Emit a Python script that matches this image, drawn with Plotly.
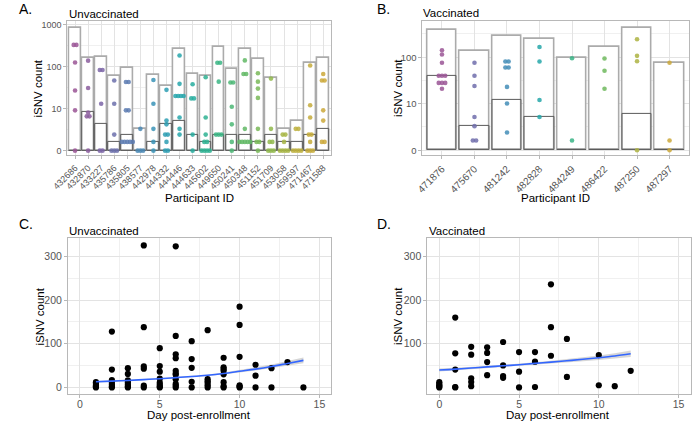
import numpy as np
import plotly.graph_objects as go

# ---------------- data ----------------
unvax_ids = ["432686", "432870", "433227", "435786", "435805", "438577", "442978",
             "444332", "444446", "444633", "445602", "449650", "450241", "450348",
             "451152", "451709", "453058", "459597", "471467", "471588"]
unvax_total = [850, 160, 172, 60, 96, 3, 64, 34, 271, 68, 61, 291, 90, 271, 157, 55, 3, 5, 124, 166]
unvax_median = [0, 8.2, 4, 1, 2, 0, 1, 4, 5, 2, 1, 2, 2, 2, 1, 2, 1, 1, 2, 3]
unvax_isnv = [
    [330, 330, 126, 27, 9, 0],
    [139, 31, 8, 6.4, 6.4, 0],
    [83, 83, 13, 0, 0],
    [47, 13, 2, 0, 0, 0],
    [43, 43, 9, 9, 1, 1, 1, 1, 1],
    [3, 0, 0, 0],
    [48, 13, 3, 1, 0],
    [28, 5, 4, 2, 2, 1, 0, 0],
    [185, 39, 20, 20, 20, 20, 6, 3, 2],
    [38, 17.5, 17.5, 2, 0],
    [56, 6, 2, 1, 1, 0, 0, 0, 0],
    [124, 124, 44, 2, 2, 2],
    [42, 42, 11, 4, 1, 0],
    [141, 67, 67, 3, 1, 1, 1, 1, 1],
    [70, 44, 30, 18, 3, 1, 1, 0],
    [52, 3, 1, 1, 0, 0, 0],
    [2, 2, 1, 0, 0, 0, 0],
    [3, 3, 0, 0, 0, 0],
    [107, 12, 6, 2, 2, 1, 0, 0, 0],
    [67, 47, 47, 9, 5, 1, 1],
]

vax_ids = ["471876", "475670", "481242", "482828", "484249", "486422", "487250", "487297"]
vax_total = [377, 139, 290, 246, 95, 169, 430, 77]
vax_median = [38.7, 3, 12.1, 5, 0, 0, 5.9, 0]
vax_isnv = [
    [141, 114, 76, 40, 40, 40, 28, 28, 28, 21],
    [76, 40, 24, 5, 3, 1, 1],
    [81, 81, 60, 60, 23, 10, 2],
    [166, 81, 12, 5],
    [95, 1],
    [94, 51, 21],
    [243, 107, 82, 0],
    [76, 1, 0],
]

unvax_day = ([1] * 5 + [2] * 7 + [3] * 7 + [4] * 6 + [5] * 8 + [6] * 11 + [7] * 5 +
             [8] * 6 + [9] * 8 + [10] * 6 + [11] * 3 + [12] * 2 + [13] + [14])
unvax_day_isnv = ([12, 8, 4, 2, 0] +
                  [128, 41, 17, 11, 6, 2, 0] +
                  [44, 31, 16, 11, 6, 2, 0] +
                  [325, 138, 48, 43, 4, 0] +
                  [90, 49, 36, 20, 11, 6, 2, 0] +
                  [323, 118, 76, 67, 38, 32, 29, 19, 8, 4, 0] +
                  [106, 65, 45, 13, 0] +
                  [131, 19, 14, 10, 5, 0] +
                  [68, 46, 42, 38, 30, 12, 3, 0] +
                  [185, 143, 70, 5, 2, 0] +
                  [52, 27, 0] +
                  [44, 0] +
                  [58] +
                  [0])
unvax_fit_day = [1, 2, 3, 4, 5, 6, 7, 8, 9, 10, 11, 12, 13, 14]
unvax_fit = [13, 14.5, 16, 18, 20, 22.5, 25, 28, 32, 37, 42, 48, 55, 62]
unvax_fit_lo = [11, 12.8, 14.6, 16.7, 18.8, 21.2, 23.5, 26.2, 29.8, 34.2, 38.6, 43.7, 49.6, 55.5]
unvax_fit_hi = [15, 16.2, 17.4, 19.3, 21.2, 23.8, 26.5, 29.8, 34.2, 39.8, 45.4, 52.3, 60.4, 68.5]

vax_day = ([0] * 5 + [1] * 5 + [2] * 5 + [3] * 4 + [4] * 4 + [5] * 3 + [6] * 3 +
           [7] * 3 + [8] * 2 + [10] * 2 + [11] + [12])
vax_day_isnv = ([12, 8, 5, 2, 0] +
                [160, 78, 41, 1, 0] +
                [93, 75, 21, 12.5, 3] +
                [92, 79, 58, 28] +
                [104, 50.5, 26, 22] +
                [81, 36, 0] +
                [81, 59, 1] +
                [236, 138, 72.6] +
                [111, 24] +
                [74, 5] +
                [3] +
                [38])
vax_fit_day = [0, 1, 2, 3, 4, 5, 6, 7, 8, 9, 10, 11, 12]
vax_fit = [40, 42, 44.5, 47, 49.5, 52, 55, 58, 61, 64.5, 68, 72, 77]
vax_fit_lo = [36.5, 39, 41.8, 44.7, 47.3, 49.8, 52.5, 55, 57.5, 60.2, 62.8, 65.8, 69.5]
vax_fit_hi = [43.5, 45, 47.2, 49.3, 51.7, 54.2, 57.5, 61, 64.5, 68.8, 73.2, 78.2, 84.5]

# ---------------- helpers ----------------
FONT = "Liberation Sans"
W, H = 692, 422


def ptrans(v):
    return np.arcsinh(np.asarray(v, dtype=float) / 2.0) / np.log(10)


def spread(vals, step):
    offs = []
    counts = {}
    for v in vals:
        counts[v] = counts.get(v, 0) + 1
    seen = {}
    for v in vals:
        n = counts[v]
        k = seen.get(v, 0)
        seen[v] = k + 1
        offs.append((k - (n - 1) / 2.0) * step)
    return offs


def hex2rgb(h):
    h = h.lstrip("#")
    return [int(h[i:i + 2], 16) for i in (0, 2, 4)]


anchors = ["#9A5595", "#7D64A6", "#5F79B1", "#3E90B8", "#25A3B0",
           "#28B099", "#3FB67E", "#68B960", "#96B84A", "#BFB03C", "#CBA83A"]


def palette(n):
    a = np.array([hex2rgb(c) for c in anchors], dtype=float)
    pos = np.linspace(0, 1, len(a))
    out = []
    for t in np.linspace(0, 1, n):
        rgb = [np.interp(t, pos, a[:, j]) for j in range(3)]
        out.append("rgb(%d,%d,%d)" % tuple(int(round(c)) for c in rgb))
    return out


def px_x(x):
    return x / W


def px_y(y):
    return 1 - y / H


fig = go.Figure()

# ---------------- Panels A and B ----------------
def bar_panel(ids, total, med, pts, xa, ya, step):
    idx = list(range(len(ids)))
    fig.add_trace(go.Bar(x=idx, y=ptrans(total), width=0.9, xaxis=xa, yaxis=ya,
                         marker=dict(color="white", line=dict(color="#ABABAB", width=1.6)),
                         showlegend=False, hoverinfo="skip"))
    fig.add_trace(go.Bar(x=idx, y=ptrans(med), width=0.9, xaxis=xa, yaxis=ya,
                         marker=dict(color="rgba(0,0,0,0)", line=dict(color="#5A5A5A", width=1)),
                         showlegend=False, hoverinfo="skip"))
    cols = palette(len(ids))
    xs, ys, cs = [], [], []
    for i, vals in enumerate(pts):
        offs = spread(vals, step)
        for v, o in zip(vals, offs):
            xs.append(i + o)
            ys.append(float(ptrans(v)))
            cs.append(cols[i])
    fig.add_trace(go.Scatter(x=xs, y=ys, mode="markers", xaxis=xa, yaxis=ya,
                             marker=dict(color=cs, size=4.6, opacity=0.85, line=dict(width=0)),
                             showlegend=False, hoverinfo="skip"))


bar_panel(unvax_ids, unvax_total, unvax_median, unvax_isnv, "x", "y", 0.21)
bar_panel(vax_ids, vax_total, vax_median, vax_isnv, "x2", "y2", 0.1)

# ---------------- Panels C and D ----------------
def scatter_panel(days, vals, fd, fv, flo, fhi, xa, ya):
    fig.add_trace(go.Scatter(x=list(fd) + list(fd)[::-1], y=list(fhi) + list(flo)[::-1],
                             fill="toself", fillcolor="rgba(153,153,153,0.4)",
                             line=dict(width=0), mode="lines", xaxis=xa, yaxis=ya,
                             showlegend=False, hoverinfo="skip"))
    fig.add_trace(go.Scatter(x=days, y=vals, mode="markers", xaxis=xa, yaxis=ya,
                             marker=dict(color="black", size=6.2, line=dict(width=0)),
                             showlegend=False, hoverinfo="skip"))
    fig.add_trace(go.Scatter(x=fd, y=fv, mode="lines", line=dict(color="#3366FF", width=1.6, shape="spline"),
                             xaxis=xa, yaxis=ya, showlegend=False, hoverinfo="skip"))


scatter_panel(unvax_day, unvax_day_isnv, unvax_fit_day, unvax_fit, unvax_fit_lo, unvax_fit_hi, "x3", "y3")
scatter_panel(vax_day, vax_day_isnv, vax_fit_day, vax_fit, vax_fit_lo, vax_fit_hi, "x4", "y4")

# ---------------- axes ----------------
GRID = "#E3E3E3"
MINOR = "#F0F0F0"
BORDER = "#B8B8B8"
TICKC = "#555555"

common = dict(showline=True, mirror=True, linecolor=BORDER, linewidth=1,
              ticks="outside", ticklen=3, tickcolor=BORDER, tickwidth=1,
              zeroline=False, showgrid=True, gridcolor=GRID, gridwidth=0.8,
              tickfont=dict(family=FONT, size=10.5, color=TICKC))

ybreaks = [0, 10, 100, 1000]
ymaj = [float(v) for v in ptrans(ybreaks)]
ymin = [(ymaj[i] + ymaj[i + 1]) / 2 for i in range(3)]

layout_axes = dict(
    xaxis=dict(common, domain=[px_x(52.5), px_x(323)], range=[-0.6, 19.6],
               tickvals=list(range(len(unvax_ids))), ticktext=unvax_ids, tickangle=-45,
               tickfont=dict(family=FONT, size=9, color=TICKC), anchor="y"),
    yaxis=dict(common, domain=[px_y(155), px_y(20)], range=[-0.11, 3.09],
               tickvals=ymaj, ticktext=[str(v) for v in ybreaks],
               tickfont=dict(family=FONT, size=9, color=TICKC), anchor="x",
               minor=dict(tickvals=ymin, showgrid=True, gridcolor=MINOR, gridwidth=0.5, ticks="")),
    xaxis2=dict(common, domain=[px_x(416.7), px_x(690)], range=[-0.6, 7.6],
                tickvals=list(range(len(vax_ids))), ticktext=vax_ids, tickangle=-45,
                tickfont=dict(family=FONT, size=10, color=TICKC), anchor="y2"),
    yaxis2=dict(common, domain=[px_y(155), px_y(20)], range=[-0.107, 2.78],
                tickvals=ymaj[:3], ticktext=[str(v) for v in ybreaks[:3]],
                tickfont=dict(family=FONT, size=9.5, color=TICKC), anchor="x2",
                minor=dict(tickvals=ymin, showgrid=True, gridcolor=MINOR, gridwidth=0.5, ticks="")),
    xaxis3=dict(common, domain=[px_x(53.3), px_x(323.3)], range=[-0.75, 15.75],
                tickvals=[0, 5, 10, 15], anchor="y3", ticklabelstandoff=-3,
                minor=dict(tickvals=[2.5, 7.5, 12.5], showgrid=True, gridcolor=MINOR, gridwidth=0.5, ticks="")),
    yaxis3=dict(common, domain=[px_y(395), px_y(238.3)], range=[-15.3, 341.7],
                tickvals=[0, 100, 200, 300], anchor="x3",
                minor=dict(tickvals=[50, 150, 250], showgrid=True, gridcolor=MINOR, gridwidth=0.5, ticks="")),
    xaxis4=dict(common, domain=[px_x(421.7), px_x(691.5)], range=[-0.75, 15.75],
                tickvals=[0, 5, 10, 15], anchor="y4", ticklabelstandoff=-3,
                minor=dict(tickvals=[2.5, 7.5, 12.5], showgrid=True, gridcolor=MINOR, gridwidth=0.5, ticks="")),
    yaxis4=dict(common, domain=[px_y(395), px_y(238.3)], range=[-15.3, 341.7],
                tickvals=[100, 200, 300], anchor="x4",
                minor=dict(tickvals=[50, 150, 250], showgrid=True, gridcolor=MINOR, gridwidth=0.5, ticks="")),
)

# ---------------- annotations ----------------
def ann(text, x, y, size, xanchor="left", yanchor="middle", angle=0, color="black"):
    return dict(text=text, x=px_x(x), y=px_y(y), xref="paper", yref="paper",
                xanchor=xanchor, yanchor=yanchor, showarrow=False, textangle=angle,
                font=dict(family=FONT, size=size, color=color))


annotations = [
    ann("A.", 1, 8, 14), ann("B.", 368, 8, 14), ann("C.", 1, 224, 14), ann("D.", 368, 224, 14),
    ann("Unvaccinated", 52, 12.7, 11.5), ann("Vaccinated", 415.5, 12.5, 11.5),
    ann("Unvaccinated", 52.5, 230.7, 11.5), ann("Vaccinated", 421.5, 230.7, 11.5),
    ann("iSNV count", 23, 87.5, 11.5, xanchor="center", angle=-90),
    ann("iSNV count", 391.5, 87.5, 11.5, xanchor="center", angle=-90),
    ann("iSNV count", 25, 316.7, 11.5, xanchor="center", angle=-90),
    ann("iSNV count", 391.5, 316.7, 11.5, xanchor="center", angle=-90),
    ann("Participant ID", 188, 198, 11.5, xanchor="center"),
    ann("Participant ID", 553, 198, 11.5, xanchor="center"),
    ann("Day post-enrollment", 188, 415.5, 11.5, xanchor="center"),
    ann("Day post-enrollment", 556, 415.5, 11.5, xanchor="center"),
]

fig.update_layout(
    width=W, height=H, margin=dict(l=0, r=0, t=0, b=0),
    paper_bgcolor="white", plot_bgcolor="white",
    barmode="overlay", bargap=0, showlegend=False,
    annotations=annotations,
    **layout_axes,
)

fig.write_html("out.html", config={"displayModeBar": False},
               post_script="document.body.style.margin='0';document.body.style.overflow='hidden';")
